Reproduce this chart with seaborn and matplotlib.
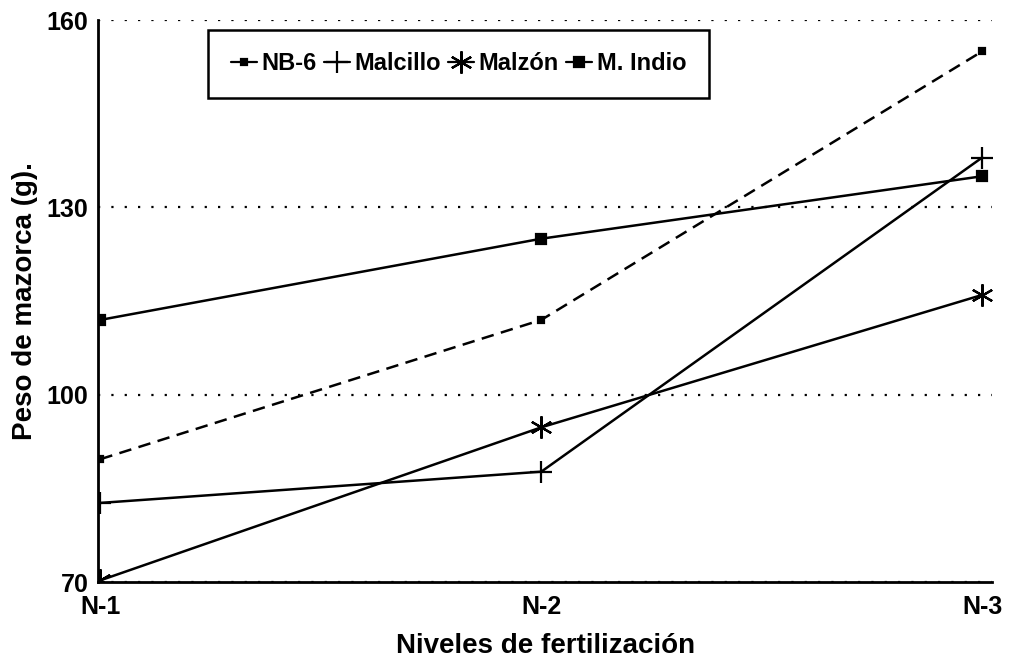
import pandas as pd
import matplotlib
matplotlib.use("Agg")
import matplotlib.pyplot as plt
import seaborn as sns

# niveles de fertilización y peso de mazorca por variedad
niveles = ["N-1", "N-2", "N-3"]
nb6 = [89.7, 112.0, 155.0]
malcillo = [82.7, 87.7, 138.0]
malzon = [70.3, 94.8, 116.0]
m_indio = [112.0, 125.0, 135.0]
variedades = ["NB-6", "Malcillo", "Malzón", "M. Indio"]
y_ticks = [70, 100, 130, 160]

sns.set_style("white")
plt.rcParams["font.family"] = ["Liberation Sans", "DejaVu Sans"]
plt.rcParams["font.weight"] = "bold"
plt.rcParams["text.color"] = "black"
plt.rcParams["axes.labelcolor"] = "black"
plt.rcParams["xtick.color"] = "black"
plt.rcParams["ytick.color"] = "black"

fig = plt.figure(figsize=(10.22, 6.70), dpi=100)
ax = fig.add_axes([0.096, 0.131, 0.875, 0.839])

markers = {"NB-6": "s", "Malcillo": "+", "Malzón": (6, 2, 0), "M. Indio": "s"}
lstyles = {"NB-6": (0, (5, 3)), "Malcillo": "-", "Malzón": "-", "M. Indio": "-"}
sizes = {"NB-6": 4, "Malcillo": 16, "Malzón": 16, "M. Indio": 7}

for nombre, vals in zip(variedades, [nb6, malcillo, malzon, m_indio]):
    d = pd.DataFrame({"nivel": range(len(niveles)), "peso": vals})
    sns.lineplot(data=d, x="nivel", y="peso", ax=ax, color="black",
                 linewidth=1.8, linestyle=lstyles[nombre], marker=markers[nombre],
                 markersize=sizes[nombre], markeredgewidth=1.6,
                 markeredgecolor="black", markerfacecolor="black")

ax.set_xlim(-0.005, 2.023)
ax.set_ylim(70, 160)
ax.set_xticks([0, 1, 2])
ax.set_xticklabels(niveles)
ax.set_yticks(y_ticks)
ax.tick_params(axis="y", labelsize=18, length=0, pad=7)
ax.tick_params(axis="x", labelsize=18, length=0, pad=9)
for lab in ax.get_xticklabels() + ax.get_yticklabels():
    lab.set_fontweight("bold")

ax.grid(axis="y", linestyle=(0, (1, 5)), color="black", linewidth=1.6)
ax.grid(axis="x", visible=False)
for s in ["top", "right"]:
    ax.spines[s].set_visible(False)
for s in ["left", "bottom"]:
    ax.spines[s].set_color("black")
    ax.spines[s].set_linewidth(2)

ax.set_xlabel("Niveles de fertilización", fontsize=20, fontweight="bold", labelpad=10)
ax.set_ylabel("Peso de mazorca (g).", fontsize=20, fontweight="bold", labelpad=6)

handles = [plt.Line2D([], [], color="black", marker=markers[n], markersize=sizes[n],
                      linestyle="-", linewidth=1.6, markeredgewidth=1.6)
           for n in variedades]
leg = ax.legend(handles, variedades, ncol=4, loc="upper left",
                bbox_to_anchor=(0.11, 1.004), fontsize=17, handlelength=1.1,
                handletextpad=0.2, columnspacing=0.3, borderpad=0.95,
                fancybox=False, framealpha=1)
leg.get_frame().set_edgecolor("black")
leg.get_frame().set_linewidth(1.8)
for t in leg.get_texts():
    t.set_fontweight("bold")

fig.savefig("out.png", dpi=100)
